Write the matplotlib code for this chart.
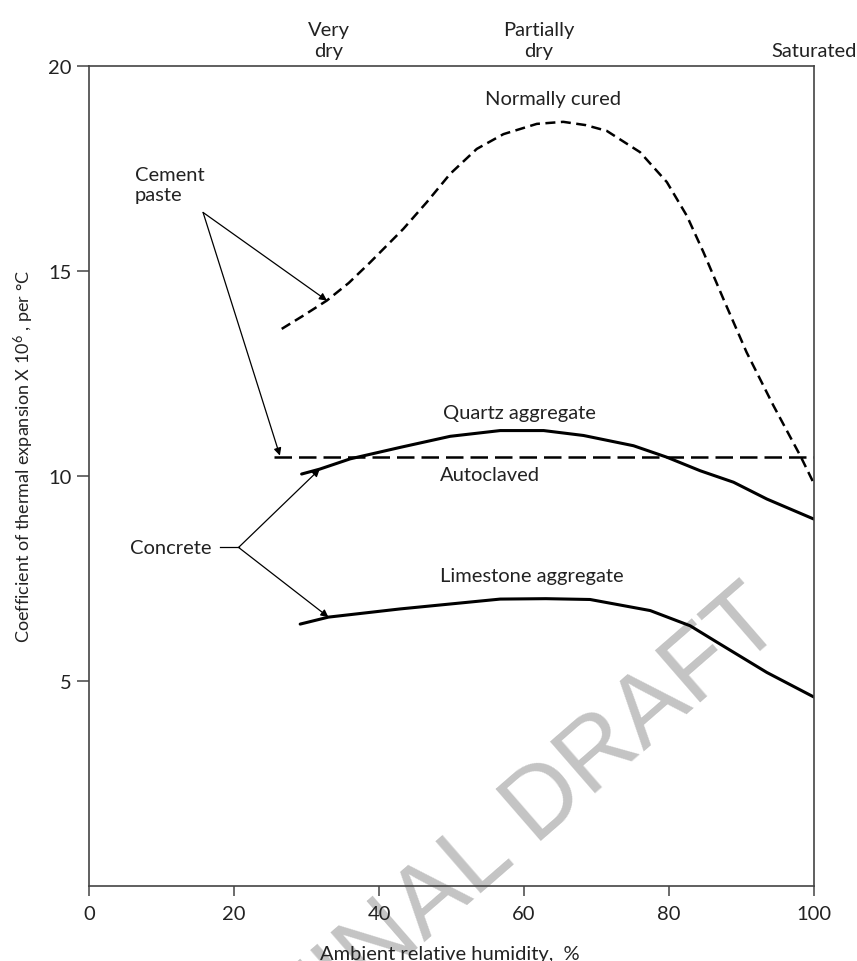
import numpy as np
import matplotlib
matplotlib.use('Agg')
import matplotlib.pyplot as plt

plt.rcParams['font.family'] = ['Lato', 'DejaVu Sans']
plt.rcParams['mathtext.fontset'] = 'custom'
plt.rcParams['mathtext.rm'] = 'Lato'
plt.rcParams['mathtext.it'] = 'Lato:italic'

# Data
normal_x = [26.55, 29.5, 32.77, 35.8, 38.74, 43.34, 46.57, 49.79, 53.47, 57.15, 61.75, 65.4,
            68.5, 71.4, 76.0, 79.7, 82.45, 84.75, 87.5, 90.7, 94.4, 98.1, 99.9]
normal_y = [13.58, 13.9, 14.27, 14.7, 15.2, 16.02, 16.67, 17.36, 17.97, 18.33, 18.58, 18.63,
            18.55, 18.41, 17.89, 17.16, 16.34, 15.45, 14.31, 13.01, 11.71, 10.49, 9.84]

autoclaved_x = [25.5, 100]
autoclaved_y = [10.45, 10.45]

quartz_x = [29.3, 31.8, 36, 42.9, 49.8, 56.7, 62.7, 68.2, 75.1, 79.7, 84.3, 88.9, 93.5, 100]
quartz_y = [10.04, 10.16, 10.41, 10.69, 10.96, 11.1, 11.1, 10.98, 10.73, 10.45, 10.12,
            9.84, 9.43, 8.94]

lime_x = [29.1, 33, 42.9, 49.8, 56.7, 63, 69.1, 77.4, 82.9, 86.6, 93.5, 100]
lime_y = [6.38, 6.55, 6.75, 6.87, 6.99, 7.0, 6.98, 6.71, 6.34, 5.94, 5.2, 4.6]

x_ticks = [0, 20, 40, 60, 80, 100]
y_ticks = [5, 10, 15, 20]
top_ticks = [33, 62, 100]
top_labels = ['Very\ndry', 'Partially\ndry', 'Saturated']

txt = '#222222'
fs = 14.5

fig = plt.figure(figsize=(8.57, 9.62), dpi=100)
ax = fig.add_axes([0.1042, 0.0783, 0.8456, 0.8524])
ax.set_zorder(1)
ax.patch.set_alpha(0)

# watermark (drawn under the axes)
fig.text(0.615, 0.150, 'FINAL DRAFT', rotation=41, fontsize=72, color='#c4c4c4',
         family='Liberation Sans', ha='center', va='center', zorder=0)

ax.plot(normal_x, normal_y, color='black', lw=1.8, dashes=(4, 2.2))
ax.plot(autoclaved_x, autoclaved_y, color='black', lw=1.8, dashes=(7, 2.8))
ax.plot(quartz_x, quartz_y, color='black', lw=2.2, solid_capstyle='round')
ax.plot(lime_x, lime_y, color='black', lw=2.2, solid_capstyle='round')

ax.set_xlim(0, 100)
ax.set_ylim(0, 20)
ax.set_xticks(x_ticks)
ax.set_yticks(y_ticks)
ax.tick_params(axis='x', length=7, width=1.1, pad=7, labelsize=fs, colors='#444444', labelcolor=txt)
ax.tick_params(axis='y', length=9, width=1.1, pad=4, labelsize=fs, colors='#444444', labelcolor=txt)
for s in ax.spines.values():
    s.set_color('#444444')
    s.set_linewidth(1.2)

ax.set_xlabel('Ambient relative humidity,  %', fontsize=fs, color=txt)
ax.xaxis.set_label_coords(0.498, -0.072)
ax.set_ylabel(r'Coefficient of thermal expansion X 10$^{6}$ , per °C', fontsize=13, color=txt)
ax.yaxis.set_label_coords(-0.074, 0.525)

top = ax.secondary_xaxis('top')
top.set_xticks(top_ticks)
top.set_xticklabels(top_labels, fontsize=fs, color=txt, linespacing=1.25)
top.tick_params(length=0, pad=5)
top.spines['top'].set_visible(False)

# curve labels
ax.text(64, 19.2, 'Normally cured', fontsize=fs, color=txt, ha='center', va='center')
ax.text(59.4, 11.55, 'Quartz aggregate', fontsize=fs, color=txt, ha='center', va='center')
ax.text(55.3, 10.04, 'Autoclaved', fontsize=fs, color=txt, ha='center', va='center')
ax.text(61, 7.56, 'Limestone aggregate', fontsize=fs, color=txt, ha='center', va='center')
ax.text(6.3, 17.1, 'Cement\npaste', fontsize=fs, color=txt, ha='left', va='center', linespacing=1.25)
ax.text(16.9, 8.25, 'Concrete', fontsize=fs, color=txt, ha='right', va='center')

arrow = dict(arrowstyle='-|>', color='black', lw=0.9, mutation_scale=11, shrinkA=0, shrinkB=0)
ax.annotate('', xy=(32.8, 14.27), xytext=(15.7, 16.42), arrowprops=arrow)
ax.annotate('', xy=(26.3, 10.49), xytext=(15.7, 16.42), arrowprops=arrow)
ax.plot([18.0, 20.6], [8.25, 8.25], color='black', lw=0.9)
ax.annotate('', xy=(31.8, 10.16), xytext=(20.6, 8.25), arrowprops=arrow)
ax.annotate('', xy=(33.0, 6.55), xytext=(20.6, 8.25), arrowprops=arrow)

fig.savefig('out.png', dpi=100)
